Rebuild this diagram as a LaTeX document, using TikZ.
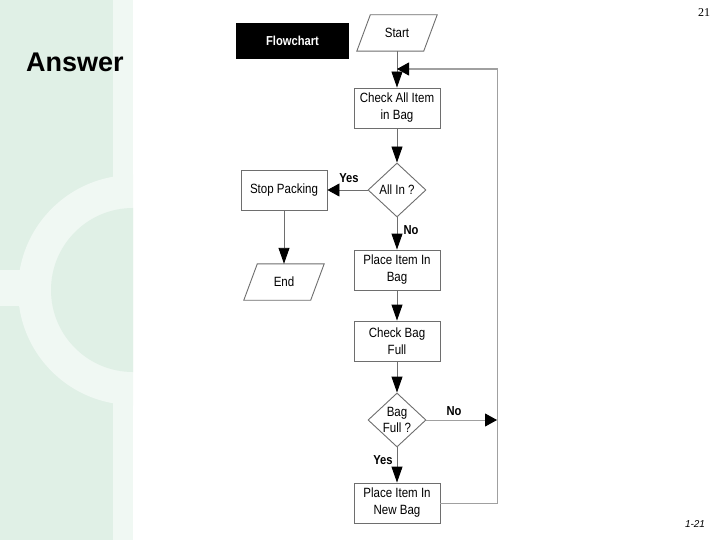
\documentclass[tikz,border=0pt]{standalone}
\usepackage{fontspec}
\setmainfont{Liberation Serif}
\newfontfamily\narrowsf[FakeStretch=0.86]{Liberation Sans}
\newfontfamily\plainsf{Liberation Sans}
\usetikzlibrary{shapes.geometric,arrows.meta}
\definecolor{panelgreen}{RGB}{224,240,230}
\definecolor{panellight}{RGB}{240,248,243}
\definecolor{edgegray}{RGB}{110,110,110}
\definecolor{linegray}{RGB}{110,110,110}
\definecolor{loopgray}{RGB}{160,160,160}
\tikzset{
  procbox/.style={draw=edgegray, line width=0.9pt, fill=white, minimum width=86pt, minimum height=40pt,
    inner sep=0pt, align=center, font=\narrowsf\fontsize{13.4}{17}\selectfont},
  iobody/.style={minimum width=66.5pt, minimum height=36pt,
    inner sep=0pt, font=\narrowsf\fontsize{13.4}{17}\selectfont},
  ioedge/.style={draw=edgegray, line width=0.9pt, line join=miter},
  decbox/.style={draw=edgegray, line width=0.9pt, fill=white, diamond, aspect=1.07, minimum width=58pt,
    minimum height=54pt, inner sep=0pt, align=center, font=\narrowsf\fontsize{13.4}{16}\selectfont},
  vflow/.style={draw=linegray, line width=0.9pt, -{Triangle[length=16pt,width=11pt,color=black,fill=black]}},
  hflow/.style={draw=linegray, line width=0.9pt, -{Triangle[length=12pt,width=13pt,color=black,fill=black]}},
  loopline/.style={draw=loopgray, line width=1pt},
  lbl/.style={font=\narrowsf\bfseries\fontsize{13}{15}\selectfont, inner sep=0pt},
}
\begin{document}
\begin{tikzpicture}[x=1pt,y=-1pt]
\useasboundingbox (0,0) rectangle (720,540);
\fill[white] (0,0) rectangle (720,540);
% left decorative panel
\begin{scope}
\clip (0,0) rectangle (133,540);
\fill[panelgreen] (0,0) rectangle (133,540);
\fill[panellight] (113,0) rectangle (133,540);
\fill[panellight] (0,270) rectangle (133,306);
\fill[panellight] (133,290) circle (115);
\fill[panelgreen] (133,290) circle (82);
\end{scope}
% titles
\node[font=\plainsf\bfseries\fontsize{27}{30}\selectfont, anchor=west, inner sep=0pt] (title) at (26,62) {Answer};
\node[font=\fontsize{12}{14}\selectfont, inner sep=0pt] (pagenum) at (704,13) {21};
\node[font=\plainsf\itshape\fontsize{10}{12}\selectfont, inner sep=0pt] (slidenum) at (695,524) {1-21};
\node[fill=black, minimum width=113pt, minimum height=36pt, inner sep=0pt, text=white,
  font=\narrowsf\bfseries\fontsize{13}{15}\selectfont] (flow) at (292.5,41) {Flowchart};
% nodes
\node[iobody] (start) at (397,33) {Start};
\draw[ioedge] ([xshift=6.75pt]start.north west) -- ([xshift=6.75pt]start.north east)
  -- ([xshift=-6.75pt]start.south east) -- ([xshift=-6.75pt]start.south west) -- cycle;
\node[procbox] (check) at (397,108) {Check All Item\\in Bag};
\node[decbox] (allin) at (397,190) {All In ?};
\node[procbox] (stop) at (284,190) {Stop Packing};
\node[iobody] (end) at (284,282) {End};
\draw[ioedge] ([xshift=6.75pt]end.north west) -- ([xshift=6.75pt]end.north east)
  -- ([xshift=-6.75pt]end.south east) -- ([xshift=-6.75pt]end.south west) -- cycle;
\node[procbox] (place) at (397,270) {Place Item In\\Bag};
\node[procbox] (checkbag) at (397,341) {Check Bag\\Full};
\node[decbox] (full) at (397,420) {Bag\\Full ?};
\node[procbox] (newbag) at (397,503) {Place Item In\\New Bag};
\coordinate (loopbot) at (497,503);
\coordinate (looptop) at (497,69);
\coordinate (loopin) at (397,69);
% connectors
\draw[vflow] (start.south) -- (check.north);
\draw[vflow] (check.south) -- (allin.north);
\draw[hflow] (allin.west) -- (stop.east);
\draw[vflow] (stop.south) -- (end.north);
\draw[vflow] (allin.south) -- (place.north);
\draw[vflow] (place.south) -- (checkbag.north);
\draw[vflow] (checkbag.south) -- (full.north);
\draw[vflow] (full.south) -- (newbag.north);
\draw[loopline] (newbag.east) -- (loopbot) -- (looptop) -- ([xshift=11pt]loopin);
\draw[hflow, draw=loopgray] (looptop) -- (loopin);
\draw[hflow, draw=loopgray] (full.east) -- (full.east -| loopbot);
% labels
\node[lbl] (yes1) at (349,178) {Yes};
\node[lbl] (no1) at (411,230) {No};
\node[lbl] (no2) at (454,411) {No};
\node[lbl] (yes2) at (383,460) {Yes};
\end{tikzpicture}
\end{document}
